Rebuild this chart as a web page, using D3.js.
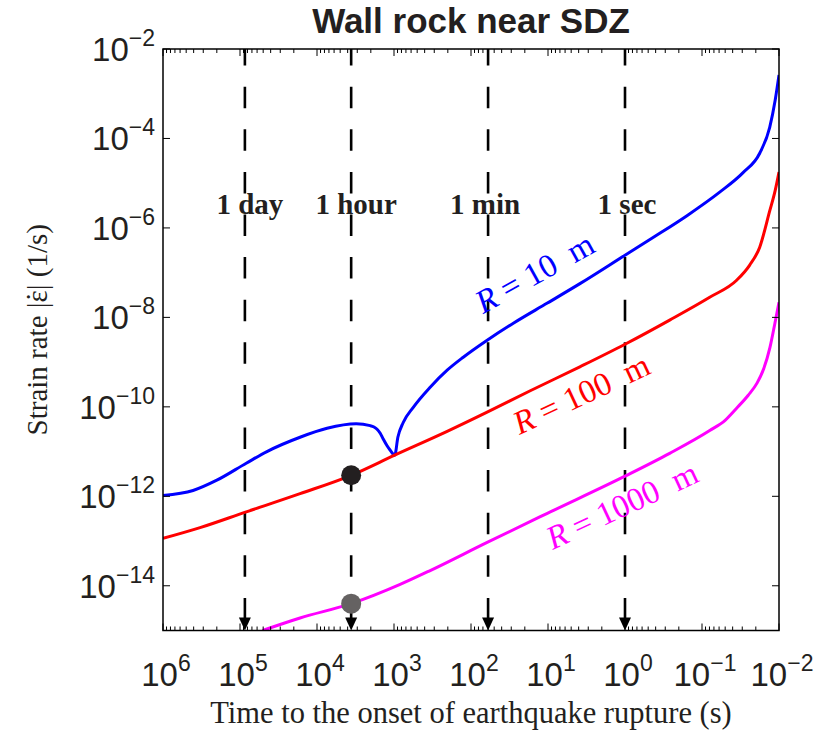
<!DOCTYPE html>
<html>
<head>
<meta charset="utf-8">
<script src="https://cdn.jsdelivr.net/npm/d3@7"></script>
<style>
  body { margin: 0; background: #fff; }
  svg { display: block; }
</style>
</head>
<body>
<svg id="chart" width="817" height="732"></svg>
<script>
// Time before rupture (s), listed from far to near, with log10 of strain rate (1/s)
const blueTime = [1e6, 4.07e5, 2.0e5, 8.3e4, 4.47e4, 1.66e4, 7.4e3, 3.1e3, 2.04e3, 1.82e3, 1.66e3, 1.51e3, 1.38e3, 1.23e3, 1.12e3, 977, 891, 759, 562, 339, 204, 126, 61.7, 28.2, 10.2, 3.8, 1.0, 0.437, 0.155, 0.0589, 0.0295, 0.0178, 0.0132, 0.0112, 0.01];
const blueLog  = [-11.98, -11.87, -11.64, -11.26, -11.00, -10.68, -10.48, -10.38, -10.42, -10.45, -10.50, -10.59, -10.72, -10.87, -10.97, -11.08, -10.68, -10.35, -10.01, -9.56, -9.18, -8.89, -8.51, -8.13, -7.68, -7.24, -6.61, -6.22, -5.72, -5.20, -4.77, -4.33, -3.75, -3.14, -2.58];

const redTime = [1e6, 3.3e5, 8.7e4, 1.66e4, 3.6e3, 977, 204, 61.7, 17.0, 3.8, 1.0, 0.263, 0.0794, 0.0355, 0.024, 0.0178, 0.0132, 0.0112, 0.01];
const redLog  = [-12.94, -12.70, -12.36, -11.94, -11.53, -11.08, -10.55, -10.12, -9.64, -9.10, -8.60, -8.06, -7.55, -7.17, -6.83, -6.43, -5.62, -5.16, -4.75];

const magentaTime = [5.1e4, 1.66e4, 3.6e3, 832, 339, 61.7, 10.2, 1.0, 0.263, 0.0794, 0.0501, 0.0355, 0.0251, 0.0193, 0.0158, 0.0131, 0.0113, 0.01];
const magentaLog  = [-15.0, -14.72, -14.40, -13.97, -13.66, -13.03, -12.38, -11.55, -11.04, -10.53, -10.30, -10.03, -9.74, -9.47, -9.15, -8.67, -8.13, -7.66];

// Reference instants marked by dashed arrows
const markTime  = [86400, 3600, 60, 1];
const markLabel = ["1 day", "1 hour", "1 min", "1 sec"];
const markShift = [5, 5, -3, 2];

// Strain rate at 1 hour before rupture on the R = 100 m and R = 1000 m curves
const dotTime = [3600, 3600];
const dotLog  = [-11.53, -14.40];
const dotColor = ["#231f20", "#656262"];

// Curve labels: text, colour, anchor time, anchor log10 strain rate, rotation
const seriesName  = ["R = 10", "R = 100", "R = 1000"];
const seriesColor = ["#0000ff", "#ff0000", "#ff00ff"];
const labelTime   = [70, 23.5, 8.7];
const labelLog    = [-7.93, -10.63, -13.20];
const labelAngle  = [-29, -25, -25];

// Axis ticks (powers of ten)
const xTickExp = [6, 5, 4, 3, 2, 1, 0, -1, -2];
const yTickExp = [-14, -12, -10, -8, -6, -4, -2];

(function draw() {
  const svg = d3.select("#chart");
  const pL = 163, pR = 779, pT = 49, pB = 630.5;
  const serif = "'Liberation Serif', 'Times New Roman', serif";
  const sans = "'Liberation Sans', Arial, Helvetica, sans-serif";

  const x = d3.scaleLog().domain([1e6, 1e-2]).range([pL, pR]);
  const y = d3.scaleLog().domain([1e-15, 1e-2]).range([pB, pT]);

  svg.append("defs").append("clipPath").attr("id", "plotclip")
    .append("rect").attr("x", pL).attr("y", pT).attr("width", pR - pL).attr("height", pB - pT);

  // Dashed reference lines with arrowheads
  const marks = svg.append("g");
  markTime.forEach((t, i) => {
    const xp = x(t);
    marks.append("line")
      .attr("x1", xp).attr("x2", xp)
      .attr("y1", pT).attr("y2", pB - 10)
      .attr("stroke", "#000").attr("stroke-width", 2.6)
      .attr("stroke-dasharray", "21.5,21.1")
      .attr("stroke-dashoffset", 4.9);
    marks.append("path")
      .attr("d", `M${xp - 6},${pB - 13} L${xp + 6},${pB - 13} L${xp},${pB} Z`)
      .attr("fill", "#000");
    marks.append("text")
      .attr("x", xp + markShift[i]).attr("y", 214)
      .attr("text-anchor", "middle")
      .attr("font-family", serif)
      .attr("font-weight", "bold").attr("font-size", 29)
      .attr("fill", "#231f20")
      .text(markLabel[i]);
  });

  // Curves
  const line = d3.line()
    .x(d => x(d[0]))
    .y(d => y(Math.pow(10, d[1])))
    .curve(d3.curveMonotoneX);

  const series = [
    d3.zip(blueTime, blueLog),
    d3.zip(redTime, redLog),
    d3.zip(magentaTime, magentaLog)
  ];
  const curves = svg.append("g").attr("clip-path", "url(#plotclip)");
  series.forEach((s, i) => {
    curves.append("path")
      .attr("d", line(s))
      .attr("fill", "none")
      .attr("stroke", seriesColor[i])
      .attr("stroke-width", 3)
      .attr("stroke-linejoin", "round");
  });

  // Markers at 1 hour
  dotTime.forEach((t, i) => {
    svg.append("circle")
      .attr("cx", x(t)).attr("cy", y(Math.pow(10, dotLog[i])))
      .attr("r", 10).attr("fill", dotColor[i]);
  });

  // Curve labels
  seriesName.forEach((name, i) => {
    const px = x(labelTime[i]), py = y(Math.pow(10, labelLog[i]));
    const parts = name.split(" = ");
    const t = svg.append("text")
      .attr("transform", `translate(${px},${py}) rotate(${labelAngle[i]})`)
      .attr("font-family", serif)
      .attr("font-size", 33)
      .attr("fill", seriesColor[i])
      .style("white-space", "pre");
    t.append("tspan").attr("font-style", "italic").text(parts[0]);
    t.append("tspan").text(" = " + parts[1] + "  m");
  });

  // Frame and ticks
  const axes = svg.append("g").attr("stroke", "#000").attr("stroke-width", 1.5);
  axes.append("rect")
    .attr("x", pL).attr("y", pT).attr("width", pR - pL).attr("height", pB - pT)
    .attr("fill", "none");

  const minor = [];
  for (let e = -2; e < 6; e++) for (let m = 2; m <= 9; m++) minor.push(m * Math.pow(10, e));
  minor.forEach(v => {
    const xp = x(v);
    axes.append("line").attr("x1", xp).attr("x2", xp).attr("y1", pB).attr("y2", pB - 4).attr("stroke-width", 1);
    axes.append("line").attr("x1", xp).attr("x2", xp).attr("y1", pT).attr("y2", pT + 4).attr("stroke-width", 1);
  });
  xTickExp.forEach(e => {
    const xp = x(Math.pow(10, e));
    axes.append("line").attr("x1", xp).attr("x2", xp).attr("y1", pB).attr("y2", pB - 7).attr("stroke-width", 1);
    axes.append("line").attr("x1", xp).attr("x2", xp).attr("y1", pT).attr("y2", pT + 7).attr("stroke-width", 1);
  });
  yTickExp.forEach(e => {
    const yp = y(Math.pow(10, e));
    axes.append("line").attr("x1", pL).attr("x2", pL + 7).attr("y1", yp).attr("y2", yp).attr("stroke-width", 1);
    axes.append("line").attr("x1", pR).attr("x2", pR - 7).attr("y1", yp).attr("y2", yp).attr("stroke-width", 1);
  });

  function supLabel(sel, e) {
    sel.append("tspan").text("10");
    sel.append("tspan").attr("font-size", 23).attr("dy", -15)
      .text(e < 0 ? "\u2212" + (-e) : String(e));
  }

  xTickExp.forEach(e => {
    const t = svg.append("text")
      .attr("x", x(Math.pow(10, e)) + 3).attr("y", 686)
      .attr("text-anchor", "middle")
      .attr("font-family", sans).attr("font-size", 33).attr("fill", "#231f20");
    supLabel(t, e);
  });
  yTickExp.forEach(e => {
    const t = svg.append("text")
      .attr("x", 155).attr("y", y(Math.pow(10, e)) + 12)
      .attr("text-anchor", "end")
      .attr("font-family", sans).attr("font-size", 33).attr("fill", "#231f20");
    supLabel(t, e);
  });

  // Titles
  svg.append("text")
    .attr("x", (pL + pR) / 2).attr("y", 32.5)
    .attr("text-anchor", "middle")
    .attr("font-family", sans).attr("font-weight", "bold").attr("font-size", 35)
    .attr("fill", "#231f20")
    .text("Wall rock near SDZ");

  svg.append("text")
    .attr("x", (pL + pR) / 2).attr("y", 723)
    .attr("text-anchor", "middle")
    .attr("font-family", serif)
    .attr("font-size", 30.5).attr("fill", "#231f20")
    .text("Time to the onset of earthquake rupture (s)");

  // Vertical title, with a dot placed over the epsilon
  const yt = svg.append("text")
    .attr("transform", `translate(47,${(pT + pB) / 2 - 10}) rotate(-90)`)
    .attr("text-anchor", "middle")
    .attr("font-family", serif)
    .attr("font-size", 29).attr("fill", "#231f20")
    .style("white-space", "pre");
  yt.append("tspan").text("Strain rate |\u03B5");
  yt.append("tspan").attr("dx", -11.5).text("\u02D9");
  yt.append("tspan").attr("dx", 1.8).text("| (1/s)");
})();
</script>
</body>
</html>
